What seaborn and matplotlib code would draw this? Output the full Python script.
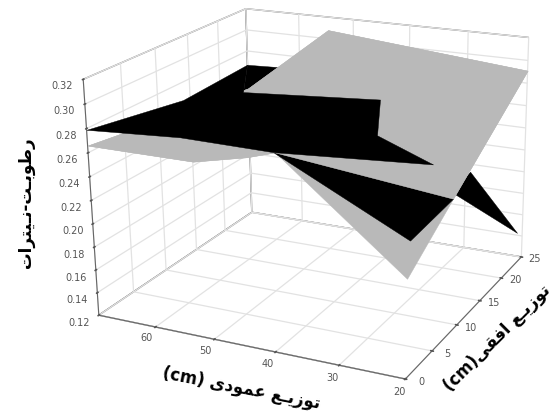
import seaborn as sns
import matplotlib
matplotlib.use('Agg')
import matplotlib.pyplot as plt
from mpl_toolkits.mplot3d import proj3d
from mpl_toolkits.mplot3d.art3d import Poly3DCollection

x_ticks=[20,30,40,50,60]
y_ticks=[0,5,10,15,20,25]
z_ticks=[0.12,0.14,0.16,0.18,0.20,0.22,0.24,0.26,0.28,0.30,0.32]

# surface points
black_x=[70,54.29,39.64,20,20,20,26.01,34.99,40.93,70,70,64.10,20,29.19,70]
black_y=[0,0,0,0.66,8.74,8.51,12.5,12.5,20,24.04,24.91,25,23.65,25,13.87]
black_z=[0.279,0.284,0.283,0.228,0.232,0.238,0.243,0.261,0.266,0.243,0.267,0.268,0.148,0.193,0.264]
gray_x=[70,52.34,43.69,39.34,20,20,20,54.61,70]
gray_y=[0,0,0,0,0.18,8.74,25,25,24.97]
gray_z=[0.266,0.266,0.276,0.283,0.2,0.232,0.291,0.308,0.244]

# persian text in display order, shaped by hand since matplotlib does not shape
depth_label='(cm) \uFEEF\uFEA9\uFEEE\uFEE4\uFECB \uFECA\u0640\uFEF3\uFEAF\uFEEE\uFE97'
width_label='(cm)\uFEF0\uFED8\uFED3\uFE8D \uFECA\u0640\uFEF3\uFEAF\uFEEE\uFE97'
z_label='\uFE95\uFE8D\uFEAE\uFE98\uFEF4\u0640\uFEE7-\uFE96\u0640\uFE91\uFEEE\uFEC3\uFEAD'

sns.set_theme(style='white')

fig=plt.figure(figsize=(5.56,4.12),dpi=100)
fig.patch.set_facecolor('white')
ax=fig.add_subplot(projection='3d')
ax.set_xlim(70,20,view_margin=0)
ax.set_ylim(0,25,view_margin=0)
ax.set_zlim(0.12,0.32,view_margin=0)
ax.view_init(elev=19.25,azim=-63.44,roll=0.8)
ax.set_proj_type('persp',focal_length=0.565)
ax.set_box_aspect((1.0427,1,0.766))
ax.set_position([0.1096,-0.0445,0.8973,1.2109])
ax.set_facecolor('white')
ax.computed_zorder=False

def layer(xs,ys,zs,idx,col,zo):
    verts=[[(xs[i],ys[i],zs[i]) for i in idx]]
    ax.add_collection3d(Poly3DCollection(verts,facecolors=col,edgecolors=col,linewidths=0.3,zorder=zo))

# painter's order, the two surfaces cut through each other
layer(black_x,black_y,black_z,[10,11,9],'black',1)
layer(black_x,black_y,black_z,[5,13,12],'black',1)
layer(gray_x,gray_y,gray_z,[0,1,2,3,4,5,6,7,8],'#b9b9b9',2)
layer(black_x,black_y,black_z,[2,3,4],'black',3)
layer(gray_x,gray_y,gray_z,[0,1,2,3,5,6,7,8],'#b9b9b9',4)
layer(black_x,black_y,black_z,[0,1,2,6,7,8,9,10,14],'black',5)

ax.set_xticks(x_ticks)
ax.set_yticks(y_ticks)
ax.set_zticks(z_ticks)
ax.set_zticklabels(['%.2f'%t for t in z_ticks])

for a in [ax.xaxis,ax.yaxis,ax.zaxis]:
    a.set_pane_color((1,1,1,1))
    a.pane.set_edgecolor('#777777')
    a.line.set_color('#666666')
    a.line.set_linewidth(0.8)
    a._axinfo['grid'].update(color='#e2e2e2',linewidth=0.9)
    a._axinfo['tick'].update(inward_factor=0.05,outward_factor=0.05,color='#666666')
ax.zaxis.set_ticks_position('lower')
ax.tick_params(labelsize=7,colors='#555555')
ax.tick_params(axis='z',pad=0)
ax.tick_params(axis='x',labelbottom=False)
ax.tick_params(axis='y',labelleft=False)

# floor labels sit just off the axis, closer in than the tick pad allows
def floor_label(x,y,s):
    u,v,_=proj3d.proj_transform(x,y,0.12,ax.get_proj())
    ax.text2D(u,v,s,transform=ax.transData,ha='center',va='center',fontsize=7,color='#555555')

for t in x_ticks:
    floor_label(t-0.8,-2,str(t))
for t in y_ticks:
    floor_label(17.7,t,str(t))

title=dict(fontweight='bold',family='DejaVu Sans',color='black',ha='center',va='center',rotation_mode='anchor')
fig.text(241/556,1-388/412,depth_label,rotation=-11,fontsize=12,**title)
fig.text(497/556,1-338/412,width_label,rotation=45,fontsize=12,**title)
fig.text(26/556,1-203/412,z_label,rotation=90,fontsize=12,**title)

fig.savefig('out.png',dpi=100)
